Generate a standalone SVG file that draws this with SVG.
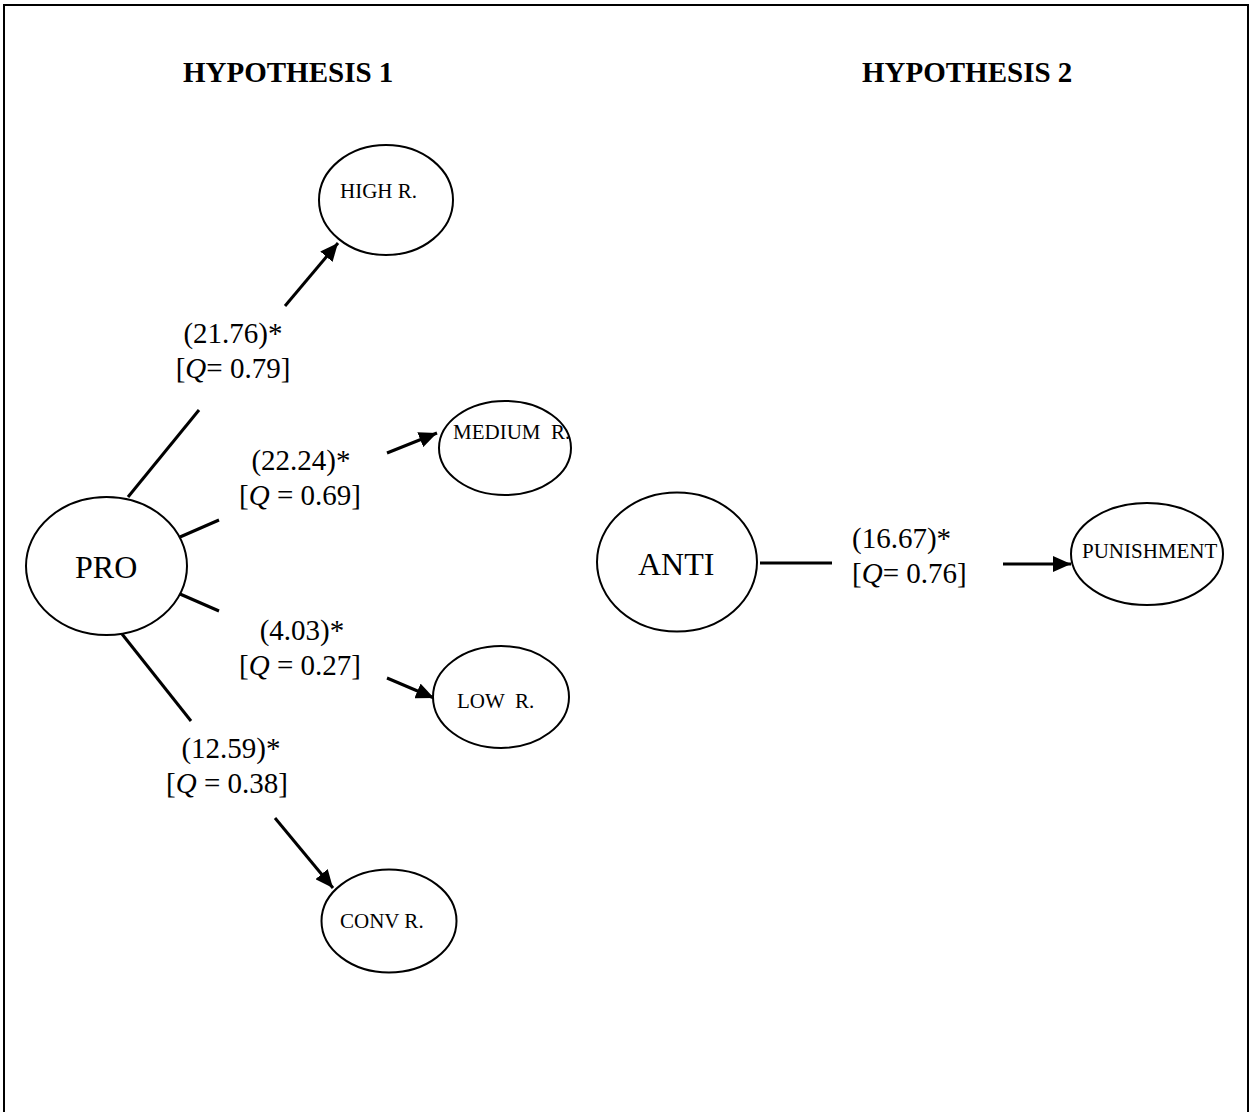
<svg xmlns="http://www.w3.org/2000/svg" width="1253" height="1112" viewBox="0 0 1253 1112">
<style>
.frame{fill:none;stroke:#000;stroke-width:2}
.node{fill:#fff;stroke:#000;stroke-width:2}
.edge{fill:none;stroke:#000;stroke-width:3}
.arrow{marker-end:url(#ah)}
.head{font-family:"Liberation Serif","Times New Roman",serif;font-weight:bold;font-size:29px;fill:#000}
.big{font-family:"Liberation Serif","Times New Roman",serif;font-size:32px;fill:#000}
.small{font-family:"Liberation Serif","Times New Roman",serif;font-size:21px;fill:#000;white-space:pre}
.lab{font-family:"Liberation Serif","Times New Roman",serif;font-size:29px;fill:#000;text-anchor:middle}
.labL{font-family:"Liberation Serif","Times New Roman",serif;font-size:29px;fill:#000}
.q{font-style:italic}
</style>
<defs>
<marker id="ah" markerUnits="userSpaceOnUse" markerWidth="19" markerHeight="16" refX="18" refY="8" orient="auto">
<path d="M0,0 L18,8 L0,16 z" fill="#000"/>
</marker>
</defs>
<rect x="0" y="0" width="1253" height="1112" fill="#fff"/>
<path class="frame" d="M4,1114 V5 H1248 V1114"/>
<text class="head" x="183" y="82">HYPOTHESIS 1</text>
<text class="head" x="862" y="82">HYPOTHESIS 2</text>

<g id="connectors">
<line class="edge" x1="128" y1="497" x2="199" y2="410"/>
<line class="edge arrow" x1="285" y1="306" x2="338" y2="243"/>
<line class="edge" x1="180" y1="537" x2="219" y2="520"/>
<line class="edge arrow" x1="387" y1="453" x2="437" y2="433"/>
<line class="edge" x1="180" y1="594" x2="219" y2="611"/>
<line class="edge arrow" x1="387" y1="678" x2="434" y2="698"/>
<line class="edge" x1="122" y1="634" x2="191" y2="721"/>
<line class="edge arrow" x1="275" y1="818" x2="333" y2="888"/>
<line class="edge" x1="760" y1="563" x2="832" y2="563"/>
<line class="edge arrow" x1="1003" y1="564" x2="1071" y2="564"/>
</g>

<g id="edge-labels">
<text class="lab" x="233" y="343">(21.76)*</text>
<text class="lab" x="233" y="378">[<tspan class="q">Q</tspan>= 0.79]</text>
<text class="lab" x="301" y="470">(22.24)*</text>
<text class="lab" x="300" y="505">[<tspan class="q">Q</tspan> = 0.69]</text>
<text class="lab" x="302" y="640">(4.03)*</text>
<text class="lab" x="300" y="675">[<tspan class="q">Q</tspan> = 0.27]</text>
<text class="lab" x="231" y="758">(12.59)*</text>
<text class="lab" x="227" y="793">[<tspan class="q">Q</tspan> = 0.38]</text>
<text class="labL" x="852" y="548">(16.67)*</text>
<text class="labL" x="852" y="583">[<tspan class="q">Q</tspan>= 0.76]</text>
</g>

<g id="node-high">
<ellipse class="node" cx="386" cy="200" rx="67" ry="55"/>
<text class="small" x="340" y="198">HIGH R.</text>
</g>
<g id="node-medium">
<ellipse class="node" cx="505" cy="448" rx="66" ry="47"/>
<text class="small" x="453" y="439" xml:space="preserve">MEDIUM  R.</text>
</g>
<g id="node-pro">
<ellipse class="node" cx="106.5" cy="566" rx="80.5" ry="69"/>
<text class="big" x="75" y="578">PRO</text>
</g>
<g id="node-low">
<ellipse class="node" cx="501" cy="697" rx="68" ry="51"/>
<text class="small" x="457" y="708" xml:space="preserve">LOW  R.</text>
</g>
<g id="node-conv">
<ellipse class="node" cx="389" cy="921" rx="67.5" ry="51.5"/>
<text class="small" x="340" y="928">CONV R.</text>
</g>
<g id="node-anti">
<ellipse class="node" cx="677" cy="562" rx="80" ry="69.5"/>
<text class="big" x="638" y="575">ANTI</text>
</g>
<g id="node-punishment">
<ellipse class="node" cx="1147" cy="554" rx="76" ry="51"/>
<text class="small" x="1082" y="558">PUNISHMENT</text>
</g>
</svg>
